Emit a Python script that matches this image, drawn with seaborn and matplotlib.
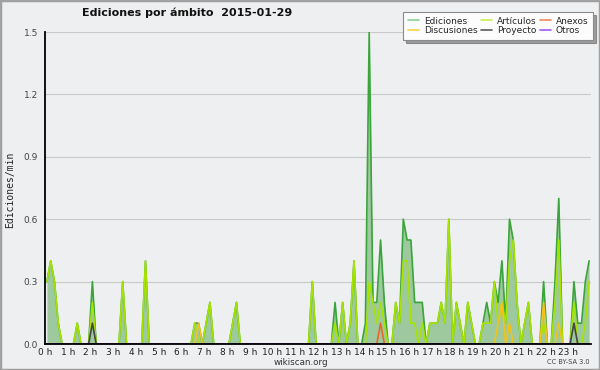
import numpy as np
import pandas as pd
import matplotlib
matplotlib.use("Agg")
import matplotlib.pyplot as plt
from matplotlib.lines import Line2D
from matplotlib.patches import Rectangle
from matplotlib.ticker import MultipleLocator, FormatStrFormatter
import seaborn as sns

# edits per minute, one value per 10-minute bin (144 bins)
ediciones = [
    0.3, 0.4, 0.3, 0.1, 0, 0,      # 0 h
    0, 0, 0.1, 0, 0, 0,            # 1 h
    0.3, 0, 0, 0, 0, 0,            # 2 h
    0, 0, 0.3, 0, 0, 0,            # 3 h
    0, 0, 0.4, 0, 0, 0,            # 4 h
    0, 0, 0, 0, 0, 0,              # 5 h
    0, 0, 0, 0.1, 0.1, 0,          # 6 h
    0.1, 0.2, 0, 0, 0, 0,          # 7 h
    0, 0.1, 0.2, 0, 0, 0,          # 8 h
    0, 0, 0, 0, 0, 0,              # 9 h
    0, 0, 0, 0, 0, 0,              # 10 h
    0, 0, 0, 0, 0.3, 0,            # 11 h
    0, 0, 0, 0, 0.2, 0,            # 12 h
    0.2, 0, 0.1, 0.4, 0, 0,        # 13 h
    0.1, 1.5, 0.2, 0.2, 0.5, 0.2,  # 14 h
    0, 0, 0.2, 0.1, 0.6, 0.5,      # 15 h
    0.5, 0.2, 0.2, 0.2, 0, 0.1,    # 16 h
    0.1, 0.1, 0.2, 0.1, 0.6, 0,    # 17 h
    0.2, 0.1, 0, 0.2, 0.1, 0,      # 18 h
    0, 0.1, 0.2, 0.1, 0.3, 0.2,    # 19 h
    0.4, 0.1, 0.6, 0.5, 0.2, 0,    # 20 h
    0.1, 0.2, 0, 0, 0, 0.3,        # 21 h
    0, 0, 0.3, 0.7, 0, 0,          # 22 h
    0, 0.3, 0.1, 0.1, 0.3, 0.4,    # 23 h
]

articulos = [
    0.3, 0.4, 0.3, 0.1, 0, 0,
    0, 0, 0.1, 0, 0, 0,
    0.2, 0, 0, 0, 0, 0,
    0, 0, 0.3, 0, 0, 0,
    0, 0, 0.4, 0, 0, 0,
    0, 0, 0, 0, 0, 0,
    0, 0, 0, 0.1, 0, 0,
    0.1, 0.2, 0, 0, 0, 0,
    0, 0.1, 0.2, 0, 0, 0,
    0, 0, 0, 0, 0, 0,
    0, 0, 0, 0, 0, 0,
    0, 0, 0, 0, 0.3, 0,
    0, 0, 0, 0, 0.1, 0,
    0.2, 0, 0.1, 0.4, 0, 0,
    0, 0.3, 0.2, 0.1, 0.2, 0.1,
    0, 0, 0.2, 0.1, 0.4, 0.4,
    0.1, 0.1, 0, 0.1, 0, 0.1,
    0.1, 0.1, 0.2, 0.1, 0.6, 0,
    0.2, 0.1, 0, 0.2, 0.1, 0,
    0, 0.1, 0.1, 0.1, 0.3, 0.1,
    0.2, 0.1, 0.4, 0.5, 0.2, 0,
    0.1, 0.2, 0, 0, 0, 0.1,
    0, 0, 0.2, 0.5, 0, 0,
    0, 0.2, 0, 0, 0.1, 0.3,
]

# sparse series: bin index -> value
discusiones = {40: 0.1, 119: 0.1, 120: 0.2, 122: 0.1, 131: 0.2, 135: 0.1}
anexos = {88: 0.1}
proyecto = {12: 0.1, 139: 0.1}
otros = {}

hour_labels = [f"{h} h" for h in range(24)]

n = len(ediciones)
hours = (np.arange(n) + 0.5) / 6.0


def expand(d):
    arr = np.zeros(n)
    for k, v in d.items():
        arr[k] = v
    return arr


df = pd.DataFrame({
    "hora": hours,
    "Ediciones": ediciones,
    "Artículos": articulos,
    "Discusiones": expand(discusiones),
    "Anexos": expand(anexos),
    "Proyecto": expand(proyecto),
    "Otros": expand(otros),
})

colors = {
    "Ediciones": "#3aa53a",
    "Artículos": "#a6e300",
    "Discusiones": "#f2c318",
    "Anexos": "#ee6426",
    "Proyecto": "#454545",
    "Otros": "#9a4cee",
}
legend_colors = {
    "Ediciones": "#8ed08e",
    "Artículos": "#c9f04e",
    "Discusiones": "#f7d24a",
    "Anexos": "#f2875a",
    "Proyecto": "#5a5a5a",
    "Otros": "#a65af2",
}

sns.set_style("white")
plt.rcParams["font.family"] = ["DejaVu Sans"]

bg = "#eeeff1"
fig = plt.figure(figsize=(6, 3.7), dpi=100, facecolor=bg)
ax = fig.add_axes([45 / 600, 26 / 370, 546 / 600, 312 / 370])
ax.set_facecolor(bg)

# area under total edits
ax.fill_between(df["hora"], df["Ediciones"], color="#9ec99e", linewidth=0, zorder=1)

for name in ["Ediciones", "Artículos", "Discusiones", "Anexos", "Proyecto", "Otros"]:
    sns.lineplot(data=df, x="hora", y=name, color=colors[name], linewidth=1.2,
                 ax=ax, legend=False, zorder=2)

ax.set_xlim(0, 24)
ax.set_ylim(0, 1.5)
ax.xaxis.set_minor_locator(MultipleLocator(1 / 6))
ax.set_xticks(range(24))
ax.set_xticklabels(hour_labels)
ax.yaxis.set_major_locator(MultipleLocator(0.3))
ax.yaxis.set_minor_locator(MultipleLocator(0.075))
ax.yaxis.set_major_formatter(FormatStrFormatter("%.1f"))

ax.tick_params(axis="x", which="both", direction="out", length=2.5, width=0.8,
               color="black", labelsize=6.5, pad=0.3, labelcolor="#222222")
ax.tick_params(axis="y", which="both", direction="out", length=4, width=0.8,
               color="black", labelsize=6.5, pad=1, labelcolor="#444444")

ax.yaxis.grid(True, color="#c9c9c9", linewidth=0.8, zorder=0)
ax.set_axisbelow(True)
for side in ["top", "right"]:
    ax.spines[side].set_visible(False)
for side in ["left", "bottom"]:
    ax.spines[side].set_color("black")
    ax.spines[side].set_linewidth(1.3)
    ax.spines[side].set_zorder(10)

ax.set_xlabel("")
ax.set_ylabel("")

fig.text(10 / 600, 1 - 190 / 370, "Ediciones/min", rotation=90, ha="center", va="center",
         fontsize=7, family="DejaVu Sans Mono", color="#222222")
fig.text(187 / 600, 1 - 13 / 370, "Ediciones por ámbito  2015-01-29", ha="center",
         va="center", fontsize=8, fontweight="bold", color="#111111")
fig.text(301 / 600, 1 - 362.5 / 370, "wikiscan.org", ha="center", va="center",
         fontsize=6.3, color="#333333")
fig.text(590 / 600, 1 - 362 / 370, "CC BY-SA 3.0", ha="right", va="center",
         fontsize=4.8, color="#444444")

order = ["Ediciones", "Discusiones", "Artículos", "Proyecto", "Anexos", "Otros"]
handles = [Line2D([], [], color=legend_colors[k], linewidth=1.2) for k in order]
leg = fig.legend(handles, order, ncol=3, loc="upper right",
                 bbox_to_anchor=(593 / 600, 1 - 12 / 370), fontsize=6.5,
                 frameon=True, fancybox=False, shadow=True, framealpha=1,
                 edgecolor="#8a8a8a", facecolor="#fcfcfc", borderpad=0.5,
                 labelspacing=0.1, handlelength=1.3, handletextpad=0.5,
                 columnspacing=0.35, borderaxespad=0)
leg.get_frame().set_linewidth(0.8)

fig.patches.append(Rectangle((0, 0), 1, 1, transform=fig.transFigure, fill=False,
                             edgecolor="#a0a0a0", linewidth=2.5))

fig.savefig("out.png", dpi=100, facecolor=bg)
